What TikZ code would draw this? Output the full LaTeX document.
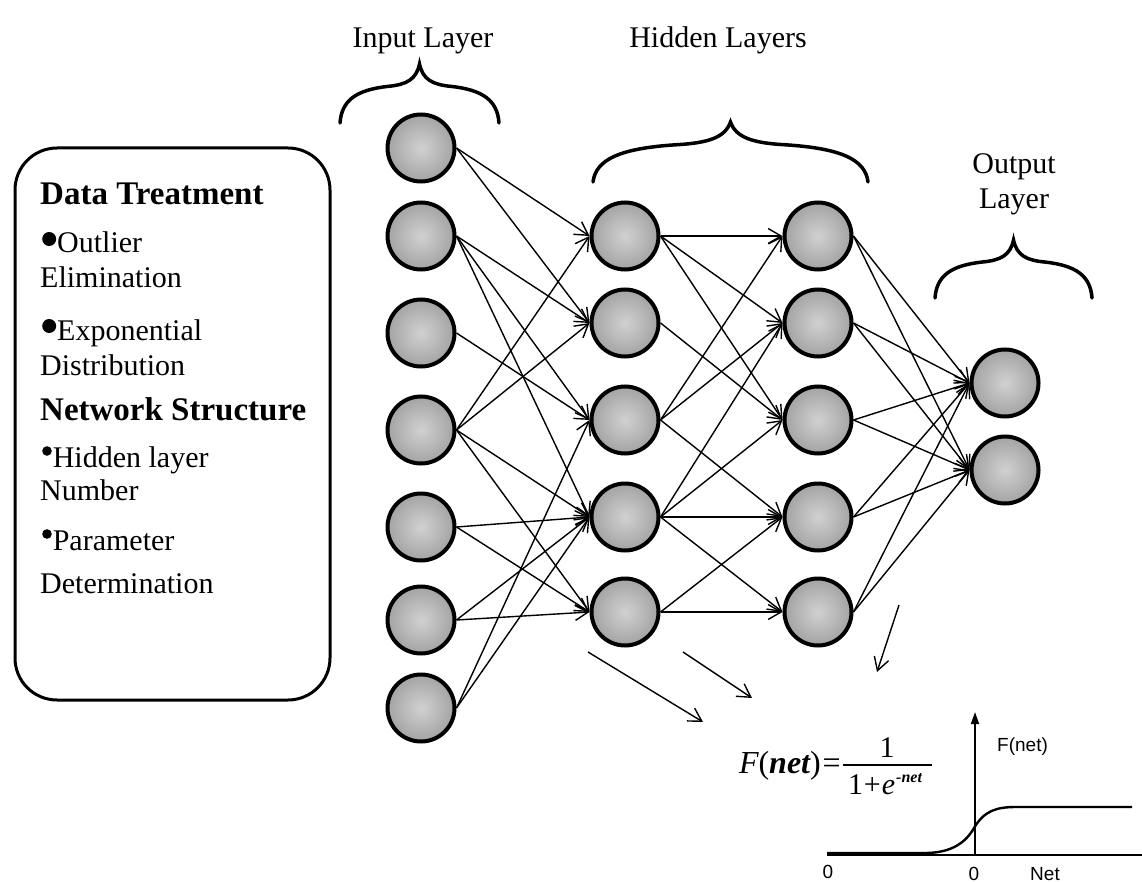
\documentclass[tikz,border=0pt]{standalone}
\usepackage{fontspec}
\setmainfont{Liberation Serif}
\newfontfamily\plotfont{Liberation Sans}
\usetikzlibrary{arrows.meta}

% filled bullets used in the side box: #1 radius, #2 height of the centre
\newcommand\bul[2]{\tikz[baseline=0pt]{\fill (#1,#2) circle[radius=#1];}\kern1pt}

% curly brace opening downwards: #1 left x, #2 right x, #3 end y, #4 tip y
\newcommand\curly[4]{%
  \pgfmathsetmacro\cw{#2-#1}%
  \pgfmathsetmacro\cm{(#1+#2)/2}%
  \pgfmathsetmacro\ch{#3-#4}%
  \draw[bracestroke]
    (#1,#3) .. controls (#1+0.01*\cw,#3-0.38*\ch) and (#1+0.10*\cw,#3-0.56*\ch) .. (#1+0.30*\cw,#3-0.62*\ch)
            .. controls (#1+0.42*\cw,#3-0.65*\ch) and (\cm-0.02*\cw,#3-0.74*\ch) .. (\cm,#4)
            .. controls (\cm+0.02*\cw,#3-0.74*\ch) and (#2-0.42*\cw,#3-0.65*\ch) .. (#2-0.30*\cw,#3-0.62*\ch)
            .. controls (#2-0.10*\cw,#3-0.56*\ch) and (#2-0.01*\cw,#3-0.38*\ch) .. (#2,#3);}

\begin{document}
\begin{tikzpicture}[x=1pt,y=-1pt,
  neuron/.style={circle, draw=black, line width=4pt, minimum size=67pt, inner sep=0pt,
    shading=radial, inner color=black!18, outer color=black!36},
  conn/.style={line width=1.4pt, -{Straight Barb[length=13pt,width=15pt,line width=1.4pt]}},
  bracestroke/.style={line width=3.5pt, line cap=round},
  big/.style={font=\fontsize{30}{34}\selectfont, inner sep=0pt},
  boxtxt/.style={big, anchor=base west},
  boxhead/.style={font=\fontsize{33}{36}\selectfont\bfseries, inner sep=0pt, anchor=base west},
  axis/.style={line width=1.8pt},
  plotlbl/.style={font=\plotfont\fontsize{19}{22}\selectfont, inner sep=0pt},
]
\useasboundingbox (0,0) rectangle (1142,882);

% ---------------- side box ----------------
\node[draw, line width=3pt, rounded corners=42pt, minimum width=315pt, minimum height=552pt]
  (box) at (172.5,424) {};
\node[boxhead] (t1)  at (40,205) {Data Treatment};
\node[boxtxt]  (t2)  at (42,253) {\bul{7pt}{14pt}Outlier};
\node[boxtxt]  (t3)  at (40,288) {Elimination};
\node[boxtxt]  (t4)  at (42,340) {\bul{7pt}{14pt}Exponential};
\node[boxtxt]  (t5)  at (40,375) {Distribution};
\node[boxhead] (t6)  at (40,420) {Network Structure};
\node[boxtxt]  (t7)  at (42,467) {\bul{4.8pt}{16pt}Hidden layer};
\node[boxtxt]  (t8)  at (40,500) {Number};
\node[boxtxt]  (t9)  at (42,550) {\bul{4.8pt}{16pt}Parameter};
\node[boxtxt]  (t10) at (40,593) {Determination};

% ---------------- layer titles and braces ----------------
\node[big, anchor=base] (tin)  at (423,48) {Input Layer};
\node[big, anchor=base] (thid) at (718,48) {Hidden Layers};
\node[big, anchor=base] (tout1) at (1014,174) {Output};
\node[big, anchor=base] (tout2) at (1014,209) {Layer};
\curly{340}{499}{123}{64}
\curly{593}{868}{182}{122}
\curly{935}{1092}{298}{240}

% ---------------- neurons ----------------
\foreach \n/\y in {1/148, 2/236, 3/333, 4/430, 5/527, 6/620, 7/708}
  \node[neuron] (i\n) at (421,\y) {};
\foreach \n/\y in {1/236, 2/323, 3/420, 4/517, 5/612} {
  \node[neuron] (h\n) at (625,\y) {};
  \node[neuron] (g\n) at (818,\y) {};
}
\node[neuron] (o1) at (1005,383) {};
\node[neuron] (o2) at (1005,470) {};

% ---------------- weights ----------------
\foreach \a/\b in {i1/h1, i1/h2, i2/h2, i2/h3, i2/h4, i3/h3, i4/h1, i4/h2, i4/h4, i4/h5,
                   i5/h4, i5/h5, i6/h4, i6/h5, i7/h3, i7/h4}
  \draw[conn] (\a.east) -- (\b.west);
\foreach \a/\b in {h1/g1, h1/g2, h1/g3, h2/g3, h3/g1, h3/g2, h3/g4,
                   h4/g2, h4/g3, h4/g4, h4/g5, h5/g4, h5/g5}
  \draw[conn] (\a.east) -- (\b.west);
\foreach \a in {g1,g2,g3,g4,g5}
  \foreach \b in {o1,o2}
    \draw[conn] (\a.east) -- (\b.west);

% ---------------- pointers to the activation function ----------------
\coordinate (p1s) at (588,652); \coordinate (p1e) at (703,722);
\coordinate (p2s) at (683,652); \coordinate (p2e) at (752,698);
\coordinate (p3s) at (899,605); \coordinate (p3e) at (877,672);
\draw[conn] (p1s) -- (p1e);
\draw[conn] (p2s) -- (p2e);
\draw[conn] (p3s) -- (p3e);

% ---------------- sigmoid formula ----------------
\node[anchor=base east, inner sep=0pt, font=\fontsize{32}{34}\selectfont] (flhs) at (842,773)
  {\itshape F\upshape(\bfseries\itshape net\mdseries\upshape)\kern2pt=\kern1pt};
\node[big, anchor=base] (fnum) at (887,757) {1};
\node[big, anchor=base] (fden) at (885,794)
  {1\kern1pt+\kern1pt\itshape e\raisebox{12pt}{\fontsize{16}{16}\selectfont\bfseries\itshape \kern1pt-net}};
\coordinate (fbl) at (843,765); \coordinate (fbr) at (932,765);
\draw[line width=1.6pt] (fbl) -- (fbr);

% ---------------- sigmoid plot ----------------
\coordinate (xa) at (827,855);
\coordinate (xb) at (1150,855);
\coordinate (ya) at (975,855);
\coordinate (yb) at (975,712);
\draw[axis] (xa) -- (xb);
\draw[axis, -{Triangle[length=12pt,width=8pt]}] (ya) -- (yb);
\draw[line width=2.4pt] (827,853) -- (925,853)
  .. controls (952,853) and (966,842) .. (974,828)
  .. controls (984,811) and (996,807) .. (1016,807) -- (1132,807);
\node[plotlbl, anchor=base west] (fl) at (997,751) {F(net)};
\node[plotlbl, anchor=base] (z1) at (828,878) {0};
\node[plotlbl, anchor=base] (z2) at (974,880) {0};
\node[plotlbl, anchor=base] (nl) at (1045,880) {Net};
\end{tikzpicture}
\end{document}
